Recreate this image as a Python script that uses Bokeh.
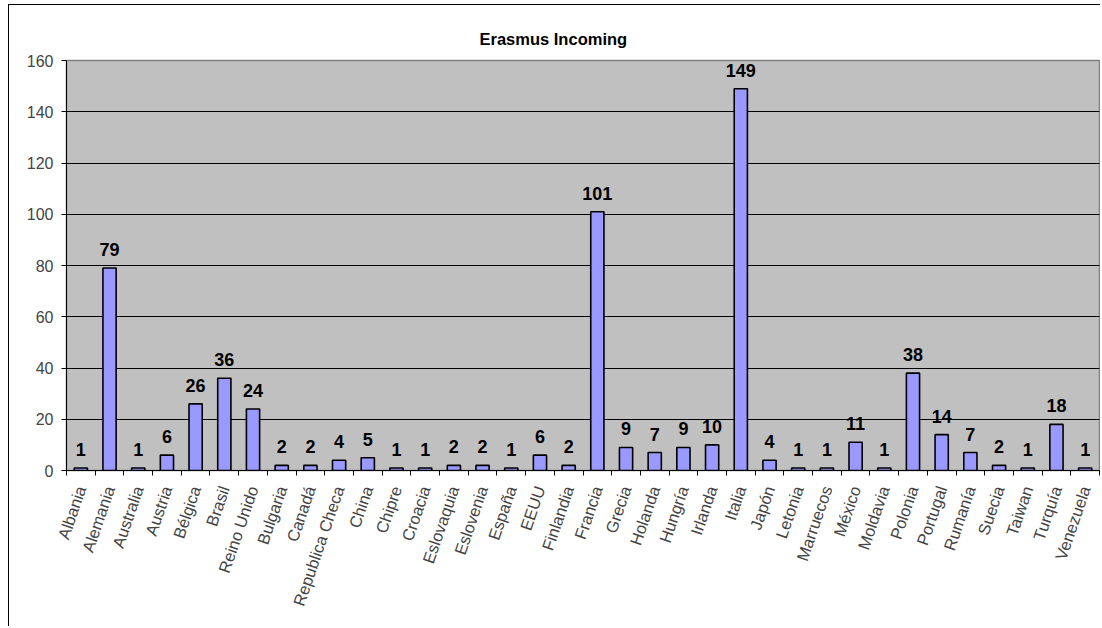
import math
from bokeh.plotting import figure
from bokeh.models import ColumnDataSource, FixedTicker, LinearAxis, Range1d, Title, LabelSet
from bokeh.core.properties import value
from bokeh.embed import file_html
from bokeh.resources import INLINE

countries = ["Albania", "Alemania", "Australia", "Austria", "Bélgica", "Brasil", "Reino Unido",
             "Bulgaria", "Canadá", "Republica Checa", "China", "Chipre", "Croacia", "Eslovaquia",
             "Eslovenia", "España", "EEUU", "Finlandia", "Francia", "Grecia", "Holanda", "Hungría",
             "Irlanda", "Italia", "Japón", "Letonia", "Marruecos", "México", "Moldavia", "Polonia",
             "Portugal", "Rumanía", "Suecia", "Taiwan", "Turquía", "Venezuela"]
students = [1, 79, 1, 6, 26, 36, 24, 2, 2, 4, 5, 1, 1, 2, 2, 1, 6, 2, 101, 9, 7, 9, 10, 149,
            4, 1, 1, 11, 1, 38, 14, 7, 2, 1, 18, 1]
y_ticks = [0, 20, 40, 60, 80, 100, 120, 140, 160]
title_text = "Erasmus Incoming"

n = len(countries)
centers = [i + 0.5 for i in range(n)]
source = ColumnDataSource(dict(x=centers, y=students, label=[str(v) for v in students]))

p = figure(width=1092, height=622, output_backend="svg", toolbar_location=None,
           x_range=Range1d(0, n), y_range=Range1d(0, 160),
           min_border_left=57, min_border_right=2, min_border_top=55, min_border_bottom=157,
           x_axis_location=None, y_axis_location=None)
p.styles = {"border-top": "1px solid black", "border-left": "1px solid black",
            "margin-left": "8px", "margin-top": "4px"}
p.background_fill_color = "#C0C0C0"
p.border_fill_color = "white"
p.outline_line_color = "#808080"
p.outline_line_width = 1.5

p.title = Title(text=title_text, align="left", offset=413, text_font="Liberation Sans",
                text_font_size="16.5px", text_font_style="bold", text_color="black", standoff=26)

# y axis
yax = LinearAxis(ticker=FixedTicker(ticks=y_ticks))
yax.axis_line_color = "black"
yax.major_tick_out = 5
yax.major_tick_in = 0
yax.minor_tick_line_color = None
yax.major_label_text_font = "Liberation Sans"
yax.major_label_text_font_size = "16px"
yax.major_label_standoff = 8
p.add_layout(yax, "left")

# x axis with ticks at category boundaries
xax = LinearAxis(ticker=FixedTicker(ticks=list(range(n + 1))))
xax.axis_line_color = "black"
xax.major_tick_out = 5
xax.major_tick_in = 0
xax.minor_tick_line_color = None
xax.major_label_text_font_size = "0px"
xax.major_label_standoff = 0
p.add_layout(xax, "below")

# x axis for category labels
lax = LinearAxis(ticker=FixedTicker(ticks=centers),
                 major_label_overrides={c: name for c, name in zip(centers, countries)})
lax.axis_line_color = None
lax.major_tick_line_color = None
lax.minor_tick_line_color = None
lax.major_label_text_font = "Liberation Sans"
lax.major_label_text_font_size = "16.5px"
lax.major_label_orientation = math.radians(71)
lax.major_label_standoff = 5
p.add_layout(lax, "below")

p.xgrid.grid_line_color = None
p.ygrid.ticker = FixedTicker(ticks=y_ticks)
p.ygrid.grid_line_color = "black"
p.ygrid.grid_line_width = 1

p.vbar(x="x", top="y", width=0.46, bottom=0, source=source,
       fill_color="#9999FF", line_color="black", line_width=1.6)

labels = LabelSet(x="x", y="y", text="label", source=source, text_align="center",
                  text_baseline="bottom", y_offset=12, text_font=value("Liberation Sans"),
                  text_font_size=value("18px"), text_font_style="bold", text_color="black")
p.add_layout(labels)

open("out.html", "w").write(file_html(p, INLINE))
